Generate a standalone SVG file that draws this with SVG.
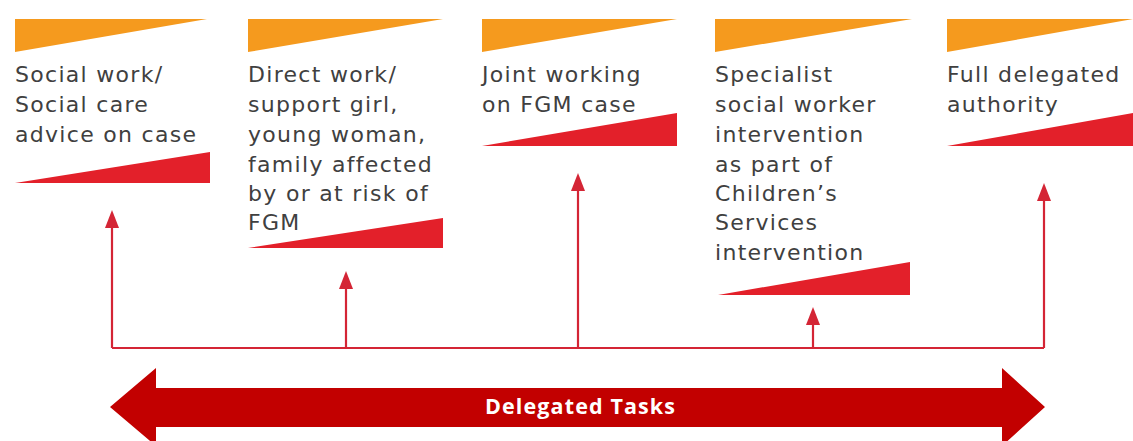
<svg xmlns="http://www.w3.org/2000/svg" width="1133" height="441" viewBox="0 0 1133 441">
<style>
.lbl{font-family:"DejaVu Sans","Liberation Sans",sans-serif;font-size:22px;fill:#404040;letter-spacing:1.3px}
.or{fill:#f59a1e}
.rd{fill:#e3202a}
.conn{stroke:#d42535;stroke-width:2.2;fill:none}
.big{fill:#c20000}
.bigt{font-family:"Open Sans","Liberation Sans",sans-serif;font-weight:bold;font-size:21.5px;fill:#ffffff}
</style>
<defs>
<marker id="ah" markerUnits="userSpaceOnUse" markerWidth="18" markerHeight="16" refX="6" refY="8" orient="auto" viewBox="0 0 18 16">
<path d="M0,1 L18,8 L0,15 Z" fill="#d42535"/>
</marker>
</defs>
<rect width="1133" height="441" fill="#ffffff"/>
<g id="node1">
<polygon class="or" points="15,19 207,19 15,52"/>
<text class="lbl"><tspan x="15" y="82">Social work/</tspan><tspan x="15" y="112">Social care</tspan><tspan x="15" y="142">advice on case</tspan></text>
<polygon class="rd" points="15,183 210,152 210,183"/>
</g>
<g id="node2">
<polygon class="or" points="248,19 443,19 248,52"/>
<text class="lbl"><tspan x="248" y="82">Direct work/</tspan><tspan x="248" y="112">support girl,</tspan><tspan x="248" y="142">young woman,</tspan><tspan x="248" y="172">family affected</tspan><tspan x="248" y="201">by or at risk of</tspan><tspan x="248" y="230">FGM</tspan></text>
<polygon class="rd" points="248,248 443,218 443,248"/>
</g>
<g id="node3">
<polygon class="or" points="482,19 677,19 482,52"/>
<text class="lbl"><tspan x="482" y="82">Joint working</tspan><tspan x="482" y="112">on FGM case</tspan></text>
<polygon class="rd" points="482,146 677,113 677,146"/>
</g>
<g id="node4">
<polygon class="or" points="715,19 912,19 715,52"/>
<text class="lbl"><tspan x="715" y="82">Specialist</tspan><tspan x="715" y="112">social worker</tspan><tspan x="715" y="142">intervention</tspan><tspan x="715" y="172">as part of</tspan><tspan x="715" y="201">Children’s</tspan><tspan x="715" y="230">Services</tspan><tspan x="715" y="260">intervention</tspan></text>
<polygon class="rd" points="718,295 910,262 910,295"/>
</g>
<g id="node5">
<polygon class="or" points="947,19 1133,19 947,52"/>
<text class="lbl"><tspan x="947" y="82">Full delegated</tspan><tspan x="947" y="112">authority</tspan></text>
<polygon class="rd" points="947,146 1133,113 1133,146"/>
</g>
<g id="connectors">
<path class="conn" d="M112,348 H1044"/>
<path class="conn" d="M112,348 V222" marker-end="url(#ah)"/>
<path class="conn" d="M346,348 V283" marker-end="url(#ah)"/>
<path class="conn" d="M578,348 V185" marker-end="url(#ah)"/>
<path class="conn" d="M813,348 V319" marker-end="url(#ah)"/>
<path class="conn" d="M1044,348 V195" marker-end="url(#ah)"/>
</g>
<g id="delegated-tasks">
<polygon class="big" points="110,407 156,368 156,388 1002,388 1002,368 1045,407 1002,446 1002,427 156,427 156,446"/>
<text class="bigt" x="485" y="414" textLength="190" lengthAdjust="spacing">Delegated Tasks</text>
</g>
</svg>
